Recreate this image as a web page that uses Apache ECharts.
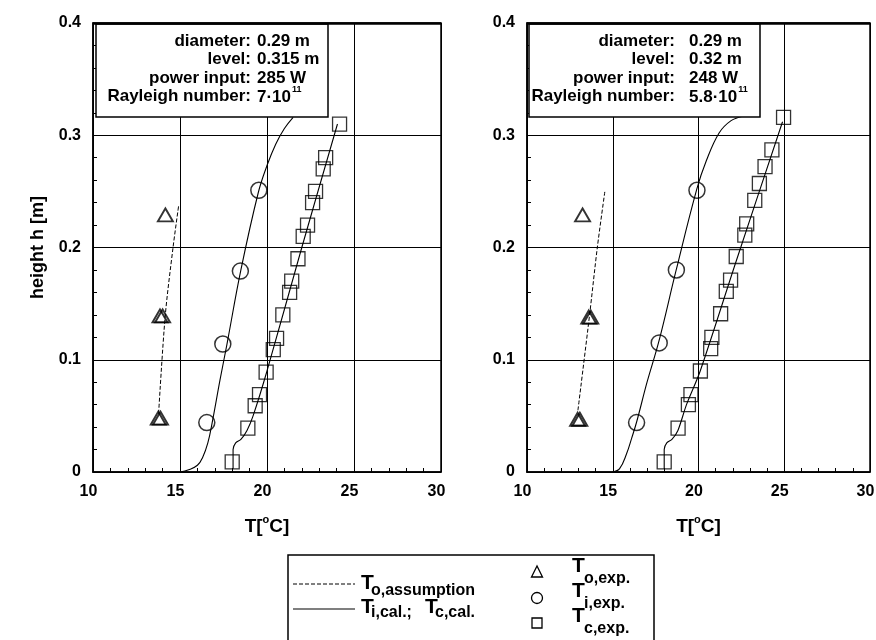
<!DOCTYPE html>
<html><head><meta charset="utf-8">
<script src="https://cdn.jsdelivr.net/npm/echarts@6/dist/echarts.min.js"></script>
<style>html,body{margin:0;padding:0;background:#fff}#c{width:876px;height:640px}</style>
</head><body><div id="c"></div>
<script>
// ---------- data ----------
const xTickValues = [10, 15, 20, 25, 30];
const yTickValues = [0, 0.1, 0.2, 0.3, 0.4];

// left panel
const leftToAssumption = [[13.77,0.052],[14.15,0.139],[14.6,0.2],[14.92,0.237]];
const leftToExp = [[13.75,0.048],[13.88,0.048],[13.85,0.139],[14.0,0.139],[14.16,0.229]];
const leftTiExp = [[16.54,0.044],[17.46,0.114],[18.47,0.179],[19.53,0.251]];
const leftTcExp = [[18.0,0.009],[18.9,0.039],[19.32,0.059],[19.57,0.069],[19.95,0.089],[20.36,0.109],
  [20.55,0.119],[20.91,0.14],[21.3,0.16],[21.42,0.17],[21.78,0.19],[22.08,0.21],[22.33,0.22],
  [22.62,0.24],[22.79,0.25],[23.23,0.27],[23.37,0.28],[24.17,0.31]];
const leftTiCal = [[15.0,0],[15.5,0.002],[16.0,0.006],[16.3,0.013],[16.6,0.026],[16.85,0.044],
  [17.3,0.082],[17.7,0.114],[18.5,0.18],[19.5,0.249],[20.0,0.273],[20.5,0.292],[21.0,0.306],[21.5,0.316]];
const leftTcCal = [[18.05,0.003],[18.05,0.02],[18.2,0.026],[18.5,0.029],[18.85,0.037],[19.2,0.05],
  [20.0,0.09],[22.0,0.2],[24.05,0.31]];

// right panel
const rightToAssumption = [[12.97,0.055],[13.65,0.14],[14.1,0.2],[14.55,0.251]];
const rightToExp = [[12.95,0.047],[13.08,0.047],[13.6,0.138],[13.72,0.138],[13.24,0.229]];
const rightTiExp = [[16.39,0.044],[17.71,0.115],[18.71,0.18],[19.91,0.251]];
const rightTcExp = [[18.0,0.009],[18.81,0.039],[19.41,0.06],[19.56,0.069],[20.11,0.09],[20.71,0.11],
  [20.78,0.12],[21.29,0.141],[21.62,0.161],[21.87,0.171],[22.2,0.192],[22.7,0.211],[22.81,0.221],
  [23.28,0.242],[23.55,0.257],[23.88,0.272],[24.28,0.287],[24.96,0.316]];
const rightTiCal = [[15.0,0],[15.4,0.003],[15.8,0.016],[16.1,0.03],[16.4,0.045],[17.0,0.08],
  [17.7,0.117],[18.7,0.18],[19.9,0.252],[20.45,0.277],[21.2,0.302],[21.9,0.313],[22.6,0.317]];
const rightTcCal = [[18.0,0.003],[18.0,0.02],[18.15,0.026],[18.45,0.029],[18.8,0.037],[19.3,0.06],
  [20.1,0.09],[22.2,0.188],[24.9,0.312]];

// annotation texts
const infoLabels = ['diameter:', 'level:', 'power input:', 'Rayleigh number:'];
const leftInfo = ['0.29 m', '0.315 m', '285 W'];
const leftRayleigh = ['7·10', '11'];
const rightInfo = ['0.29 m', '0.32 m', '248 W'];
const rightRayleigh = ['5.8·10', '11'];

// ---------- chart ----------
const FONT = '"Liberation Sans", Arial, Helvetica, sans-serif';
const chart = echarts.init(document.getElementById('c'), null, {renderer: 'canvas'});

function xAxisCfg(gridIndex) {
  return {
    type: 'value', gridIndex, min: xTickValues[0], max: xTickValues[xTickValues.length-1],
    interval: xTickValues[1]-xTickValues[0],
    name: '{a|T[}{s|o}{a|C]}', nameLocation: 'middle', nameGap: 42,
    nameTextStyle: {rich: {
      a: {fontSize: 19, fontWeight: 'bold', fontFamily: FONT, color: '#000', lineHeight: 22, verticalAlign: 'bottom'},
      s: {fontSize: 11, fontWeight: 'bold', fontFamily: FONT, color: '#000', lineHeight: 22, verticalAlign: 'top'}
    }},
    axisLine: {show: true, onZero: false, lineStyle: {color: '#000', width: 1.5}},
    axisTick: {show: true, inside: true, length: 5, lineStyle: {color: '#000', width: 1}},
    minorTick: {show: true, splitNumber: 5, length: 4, lineStyle: {color: '#000', width: 1}},
    splitLine: {show: true, lineStyle: {color: '#000', width: 1}},
    axisLabel: {color: '#000', fontSize: 16, fontWeight: 'bold', fontFamily: FONT, margin: 12, padding: [0, 9, 0, 0]}
  };
}
function yAxisCfg(gridIndex, withName) {
  return {
    type: 'value', gridIndex, min: yTickValues[0], max: yTickValues[yTickValues.length-1],
    interval: yTickValues[1]-yTickValues[0],
    name: withName ? 'height h [m]' : '', nameLocation: 'middle', nameGap: 46,
    nameTextStyle: {fontSize: 18, fontWeight: 'bold', fontFamily: FONT, color: '#000'},
    axisLine: {show: true, onZero: false, lineStyle: {color: '#000', width: 1.5}},
    axisTick: {show: true, inside: true, length: 5, lineStyle: {color: '#000', width: 1}},
    minorTick: {show: true, splitNumber: 5, length: 4, lineStyle: {color: '#000', width: 1}},
    splitLine: {show: true, lineStyle: {color: '#000', width: 1}},
    axisLabel: {color: '#000', fontSize: 16, fontWeight: 'bold', fontFamily: FONT, margin: 12, padding: [0, 0, 6, 0]}
  };
}

function panelSeries(i, toA, toE, tiE, tcE, tiC, tcC) {
  const base = {xAxisIndex: i, yAxisIndex: i, silent: true, animation: false};
  const mark = {color: 'rgba(0,0,0,0)', borderColor: '#000', borderWidth: 1.3};
  return [
    Object.assign({type: 'line', data: toA, symbol: 'none', smooth: 0.3,
      lineStyle: {color: '#000', width: 1, type: [4, 2]}}, base),
    Object.assign({type: 'line', data: tiC, symbol: 'none', smooth: 0.4,
      lineStyle: {color: '#000', width: 1.1}}, base),
    Object.assign({type: 'line', data: tcC, symbol: 'none', smooth: 0.3,
      lineStyle: {color: '#000', width: 1.1}}, base),
    Object.assign({type: 'scatter', data: toE, symbol: 'triangle', symbolSize: [15, 13],
      itemStyle: Object.assign({}, mark, {borderWidth: 1.9})}, base),
    Object.assign({type: 'scatter', data: tiE, symbol: 'circle', symbolSize: 16, itemStyle: Object.assign({}, mark, {borderWidth: 1.5})}, base),
    Object.assign({type: 'scatter', data: tcE, symbol: 'rect', symbolSize: 14, itemStyle: mark}, base)
  ];
}

function infoBox(x0, w, labelRight, valueLeft, vals, ray) {
  const els = [{type: 'rect', shape: {x: x0, y: 24, width: w, height: 93},
    style: {fill: '#fff', stroke: '#000', lineWidth: 1.5}, z: 100}];
  const ys = [41, 59.5, 78, 96.5];
  infoLabels.forEach((t, k) => {
    els.push({type: 'text', x: labelRight, y: ys[k], z: 101,
      style: {text: t, fill: '#000', font: 'bold 17px ' + FONT, align: 'right', verticalAlign: 'middle'}});
  });
  vals.forEach((t, k) => {
    els.push({type: 'text', x: valueLeft, y: ys[k], z: 101,
      style: {text: t, fill: '#000', font: 'bold 17px ' + FONT, align: 'left', verticalAlign: 'middle'}});
  });
  els.push({type: 'text', x: valueLeft, y: ys[3] - 1, z: 101,
    style: {text: '{a|' + ray[0] + '}{s|' + ray[1] + '}', align: 'left', verticalAlign: 'middle',
      rich: {
        a: {fontSize: 17, fontWeight: 'bold', fontFamily: FONT, fill: '#000', color: '#000', lineHeight: 20, verticalAlign: 'bottom'},
        s: {fontSize: 9, fontWeight: 'bold', fontFamily: FONT, fill: '#000', color: '#000', lineHeight: 20, verticalAlign: 'top', padding: [0, 0, 0, 1]}
      }}});
  return els;
}

function txt(x, y, t, size) {
  return {type: 'text', x, y, z: 101,
    style: {text: t, fill: '#000', font: 'bold ' + size + 'px ' + FONT, align: 'left', verticalAlign: 'middle'}};
}

const legendEls = [
  {type: 'rect', shape: {x: 288, y: 555, width: 366, height: 110}, style: {fill: '#fff', stroke: '#000', lineWidth: 1.5}, z: 100},
  {type: 'line', shape: {x1: 293, y1: 584, x2: 355, y2: 584}, style: {stroke: '#000', lineWidth: 1, lineDash: [4, 2]}, z: 101},
  {type: 'line', shape: {x1: 293, y1: 609, x2: 355, y2: 609}, style: {stroke: '#000', lineWidth: 1.1}, z: 101},
  txt(361, 583, 'T', 21), txt(371, 591, 'o,assumption', 16),
  txt(361, 607, 'T', 21), txt(371, 613, 'i,cal.;', 16),
  txt(425, 607, 'T', 21), txt(435, 613, 'c,cal.', 16),
  {type: 'polygon', shape: {points: [[537, 566], [531.5, 577], [542.5, 577]]}, style: {fill: 'none', stroke: '#000', lineWidth: 1.3}, z: 101},
  {type: 'circle', shape: {cx: 537, cy: 598, r: 5.5}, style: {fill: 'none', stroke: '#000', lineWidth: 1.3}, z: 101},
  {type: 'rect', shape: {x: 532, y: 618, width: 10, height: 10}, style: {fill: 'none', stroke: '#000', lineWidth: 1.3}, z: 101},
  txt(572, 566, 'T', 21), txt(584, 578.5, 'o,exp.', 16),
  txt(572, 591.5, 'T', 21), txt(584, 603.5, 'i,exp.', 16),
  txt(572, 616.5, 'T', 21), txt(584, 628.5, 'c,exp.', 16)
];

const option = {
  backgroundColor: '#fff',
  animation: false,
  grid: [
    {left: 93, top: 23, width: 348, height: 449, show: true, borderColor: '#000', borderWidth: 1.5, outerBoundsMode: 'none', containLabel: false},
    {left: 527, top: 23, width: 343, height: 449, show: true, borderColor: '#000', borderWidth: 1.5, outerBoundsMode: 'none', containLabel: false}
  ],
  xAxis: [xAxisCfg(0), xAxisCfg(1)],
  yAxis: [yAxisCfg(0, true), yAxisCfg(1, false)],
  series: [].concat(
    panelSeries(0, leftToAssumption, leftToExp, leftTiExp, leftTcExp, leftTiCal, leftTcCal),
    panelSeries(1, rightToAssumption, rightToExp, rightTiExp, rightTcExp, rightTiCal, rightTcCal)
  ),
  graphic: [].concat(
    infoBox(96, 232, 251, 257, leftInfo, leftRayleigh),
    infoBox(529, 231, 675, 689, rightInfo, rightRayleigh),
    legendEls,
    [{type: 'line', shape: {x1: 93, y1: 23.5, x2: 441, y2: 23.5}, style: {stroke: '#000', lineWidth: 2.5}, z: 102},
     {type: 'line', shape: {x1: 527, y1: 23.5, x2: 870, y2: 23.5}, style: {stroke: '#000', lineWidth: 2.5}, z: 102}]
  )
};
chart.setOption(option);
</script>
</body></html>
